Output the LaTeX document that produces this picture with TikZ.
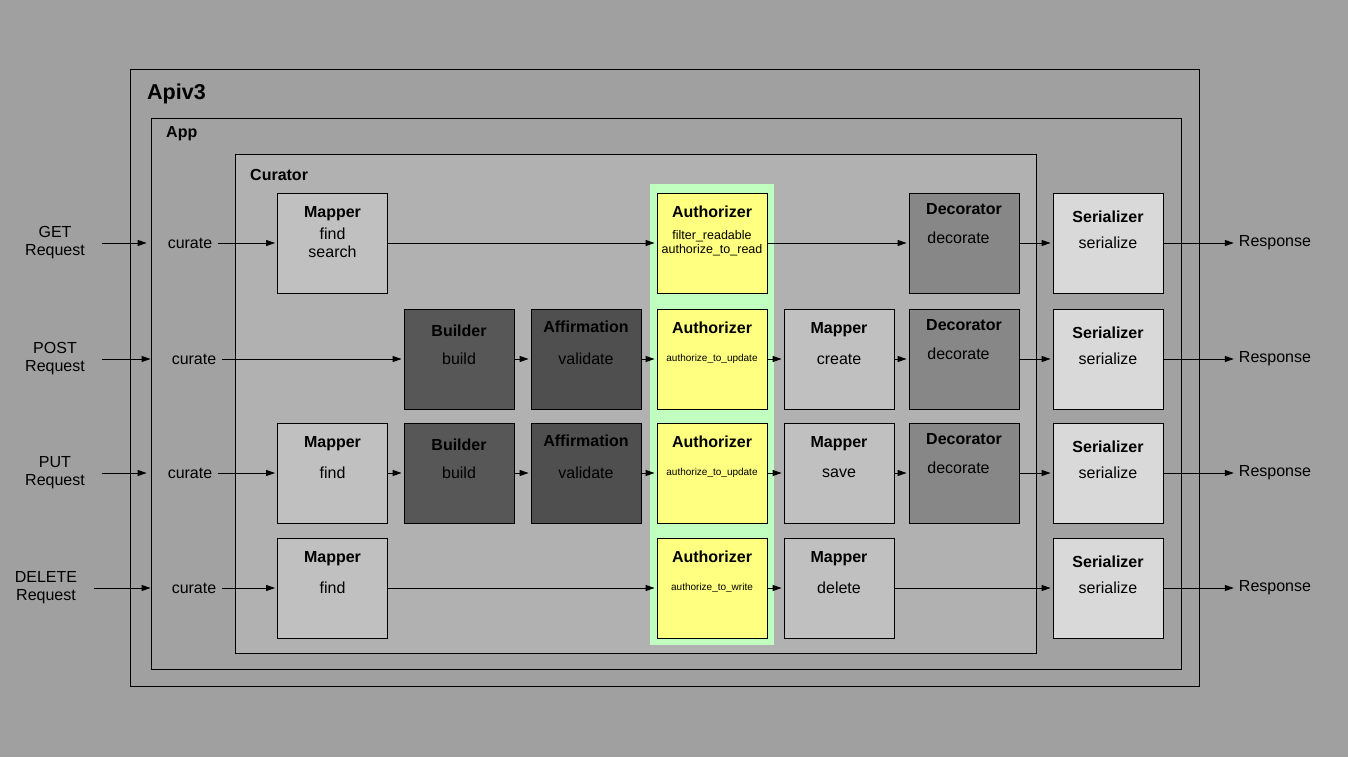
\documentclass[tikz,border=0pt]{standalone}
\usepackage{fontspec}
\setmainfont{Liberation Sans}
\usepackage{tikz}
\usetikzlibrary{arrows.meta, positioning}

\definecolor{bggray}{HTML}{A0A0A0}
\definecolor{appgray}{HTML}{A2A2A2}
\definecolor{curgray}{HTML}{B1B1B1}
\definecolor{mapgray}{HTML}{C0C0C0}
\definecolor{buildgray}{HTML}{575757}
\definecolor{affgray}{HTML}{4F4F4F}
\definecolor{decgray}{HTML}{878787}
\definecolor{sergray}{HTML}{D9D9D9}
\definecolor{authyellow}{HTML}{FFFF80}
\definecolor{authgreen}{HTML}{C0FFC0}

\tikzset{
  txt/.style={font=\fontsize{16}{18}\selectfont, inner sep=3pt, align=center},
  ttl/.style={anchor=base, yshift=-25pt, inner sep=0pt, font=\fontsize{16}{18}\selectfont\bfseries},
  frame/.style={draw, line width=0.9pt},
  box/.style 2 args={txt, draw, line width=0.9pt, minimum width=110pt, minimum height=100pt, label={[ttl,#2]north:#1}},
  mapbox/.style={box={Mapper}{}, fill=mapgray},
  buildbox/.style={box={Builder}{yshift=-3pt}, fill=buildgray},
  affbox/.style={box={Affirmation}{yshift=1pt}, fill=affgray},
  authbox/.style={box={Authorizer}{}, fill=authyellow},
  decbox/.style={box={Decorator}{yshift=3pt}, fill=decgray},
  serbox/.style={box={Serializer}{yshift=-5pt}, fill=sergray},
  arr/.style={-{Triangle[length=9pt,width=6pt]}, line width=0.9pt, shorten >=2pt, shorten <=0pt},
  curarr/.style={arr, shorten <=2.5pt},
  inarr/.style={arr, shorten <=14pt, shorten >=18pt}
}

\begin{document}
\begin{tikzpicture}[x=1pt, y=-1pt]
    \useasboundingbox (0,0) rectangle (1348,757);
    \fill[bggray] (0,0) rectangle (1348,757);

    \draw[frame, fill=bggray] (130,69) rectangle (1199,686);
    \draw[frame, fill=appgray] (151,118) rectangle (1181,669);
    \draw[frame, fill=curgray] (235,154) rectangle (1036,653);
    \fill[authgreen] (650,184) rectangle (774,645);

    \node[anchor=base west, inner sep=0pt, font=\fontsize{21.5}{24}\selectfont\bfseries] (apiv3) at (147,100) {Apiv3};
    \node[anchor=base west, inner sep=0pt, font=\fontsize{16}{18}\selectfont\bfseries] (app) at (166,138) {App};
    \node[anchor=base west, inner sep=0pt, font=\fontsize{16}{18}\selectfont\bfseries] (curator) at (250,180) {Curator};

    \node[txt] (getreq) at (55,243) {GET\\Request};
    \node[txt] (postreq) at (55,359) {POST\\Request};
    \node[txt] (putreq) at (55,473) {PUT\\Request};
    \node[txt] (delreq) at (46,588) {DELETE\\Request};

    \node[txt] (getcur) at (190,243) {curate};
    \node[txt] (postcur) at (194,359) {curate};
    \node[txt] (putcur) at (190,473) {curate};
    \node[txt] (delcur) at (194,588) {curate};

    \node[mapbox] (getmap) at (332.5,243) {find\\search};
    \node[authbox, font=\fontsize{12.5}{14}\selectfont] (getauth) at (712,243) {filter\_readable\\authorize\_to\_read};
    \node[decbox] (getdec) at (964,243) {\raisebox{10pt}{decorate\kern11pt}};
    \node[serbox] (getser) at (1108,243) {serialize};

    \node[buildbox] (postbuild) at (459,359) {build};
    \node[affbox] (postaff) at (586,359) {validate};
    \node[authbox, font=\fontsize{10}{12}\selectfont] (postauth) at (712,359) {authorize\_to\_update};
    \node[mapbox] (postmap) at (839,359) {create};
    \node[decbox] (postdec) at (964,359) {\raisebox{10pt}{decorate\kern11pt}};
    \node[serbox] (postser) at (1108,359) {serialize};

    \node[mapbox] (putmap) at (332.5,473) {find};
    \node[buildbox] (putbuild) at (459,473) {build};
    \node[affbox] (putaff) at (586,473) {validate};
    \node[authbox, font=\fontsize{10}{12}\selectfont] (putauth) at (712,473) {authorize\_to\_update};
    \node[mapbox] (putsave) at (839,473) {save};
    \node[decbox] (putdec) at (964,473) {\raisebox{10pt}{decorate\kern11pt}};
    \node[serbox] (putser) at (1108,473) {serialize};

    \node[mapbox] (delmap) at (332.5,588) {find};
    \node[authbox, font=\fontsize{10}{12}\selectfont] (delauth) at (712,588) {authorize\_to\_write};
    \node[mapbox] (deldel) at (839,588) {delete};
    \node[serbox] (delser) at (1108,588) {serialize};

    \node[txt] (getresp) at (1275,243) {Response};
    \node[txt] (postresp) at (1275,359) {Response};
    \node[txt] (putresp) at (1275,473) {Response};
    \node[txt] (delresp) at (1275,588) {Response};

    \draw[inarr] (getreq) -- (getcur);
    \draw[curarr] (getcur) -- (getmap);
    \draw[arr] (getmap) -- (getauth);
    \draw[arr] (getauth) -- (getdec);
    \draw[arr] (getdec) -- (getser);
    \draw[arr] (getser) -- (getresp);

    \draw[inarr] (postreq) -- (postcur);
    \draw[curarr] (postcur) -- (postbuild);
    \draw[arr] (postbuild) -- (postaff);
    \draw[arr] (postaff) -- (postauth);
    \draw[arr] (postauth) -- (postmap);
    \draw[arr] (postmap) -- (postdec);
    \draw[arr] (postdec) -- (postser);
    \draw[arr] (postser) -- (postresp);

    \draw[inarr] (putreq) -- (putcur);
    \draw[curarr] (putcur) -- (putmap);
    \draw[arr] (putmap) -- (putbuild);
    \draw[arr] (putbuild) -- (putaff);
    \draw[arr] (putaff) -- (putauth);
    \draw[arr] (putauth) -- (putsave);
    \draw[arr] (putsave) -- (putdec);
    \draw[arr] (putdec) -- (putser);
    \draw[arr] (putser) -- (putresp);

    \draw[inarr] (delreq) -- (delcur);
    \draw[curarr] (delcur) -- (delmap);
    \draw[arr] (delmap) -- (delauth);
    \draw[arr] (delauth) -- (deldel);
    \draw[arr] (deldel) -- (delser);
    \draw[arr] (delser) -- (delresp);
\end{tikzpicture}
\end{document}
